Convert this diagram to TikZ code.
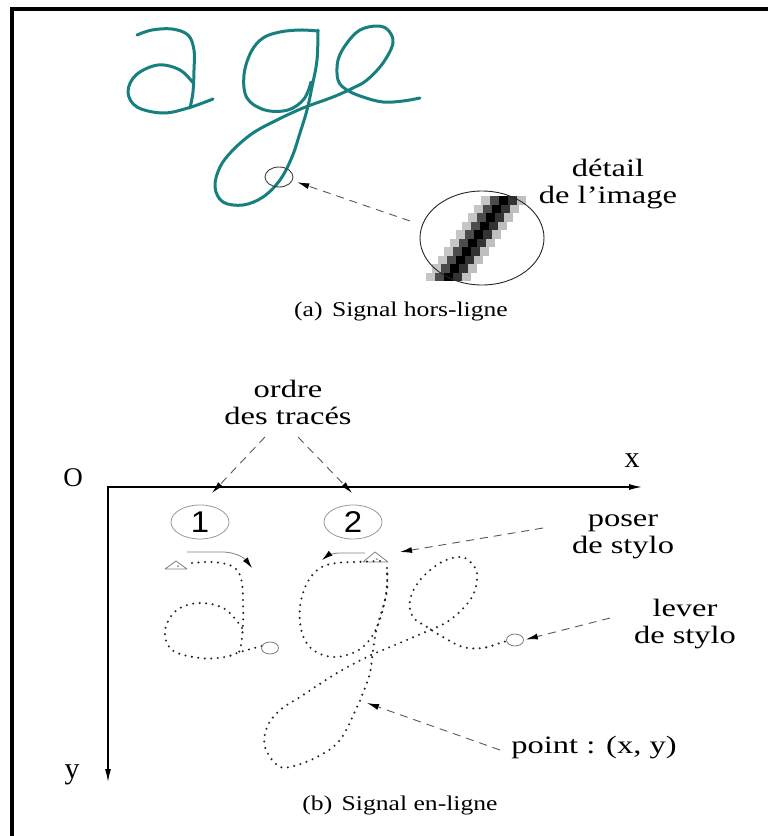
\documentclass[tikz,border=0pt]{standalone}
\usepackage{fontspec}
\setmainfont{Liberation Serif}
\newfontfamily\lblfont[FakeStretch=1.3]{Liberation Serif}
\newfontfamily\capfont[FakeStretch=1.22]{Liberation Serif}
\newfontfamily\digfont[FakeStretch=1.1]{Liberation Sans}
\usetikzlibrary{arrows.meta,shapes.geometric}
\definecolor{tealink}{HTML}{17807F}
\begin{document}
\begin{tikzpicture}[x=1pt,y=-1pt,
  lbl/.style={font=\lblfont\fontsize{25}{27}\selectfont, align=center, inner sep=0pt},
  capt/.style={font=\capfont\fontsize{21}{22}\selectfont, inner sep=0pt},
  axlbl/.style={font=\fontsize{30}{30}\selectfont, inner sep=0pt},
  digit/.style={font=\digfont\fontsize{30}{30}\selectfont, ellipse, draw=gray!80, line width=0.8pt, minimum width=58pt, minimum height=34pt, inner sep=0pt},
  hand/.style={tealink, line width=3pt, line cap=round, line join=round},
  dots/.style={black!85, line width=2.3pt, dash pattern=on 0pt off 6.5pt, line cap=round},
  dasharrow/.style={gray!70!black, line width=0.9pt, dash pattern=on 8pt off 6pt, -{Latex[length=12pt,width=6pt,black]}},
  penarrow/.style={gray, line width=0.8pt, -{Latex[length=11pt,width=6pt,black]}},
  pendown/.style={gray, line width=0.8pt, line join=round},
  penup/.style={draw=gray, ellipse, line width=0.8pt, minimum width=17pt, minimum height=12pt, inner sep=0pt}
]
\useasboundingbox (0,0) rectangle (768,836);
\fill[white] (0,0) rectangle (768,836);
% frame
\draw[line width=3.5pt, line join=miter] (770,9) -- (12,9) -- (12,838);

% ---------- (a) offline ----------
\draw[hand] plot[smooth, tension=0.6] coordinates {(137,35) (152,30) (172,29) (188,35) (194,50) (194,70) (193,92) (190,108)};
\draw[hand] plot[smooth, tension=0.6] coordinates {(194,84) (180,70) (158,65) (136,75) (128,92) (137,107) (163,113) (188,108) (213,99)};
\draw[hand] plot[smooth, tension=0.6] coordinates {(318,31) (300,30) (280,32) (263,38) (251,52) (244,75) (247,98) (265,110) (288,110) (304,99) (311,82)};
\draw[hand] plot[smooth, tension=0.6] coordinates {(318,30) (317,60) (312,87) (307,110) (300,133) (292,157) (280,180) (263,197) (243,205) (223,202) (215,187) (220,167) (233,150) (253,133) (277,120) (303,108) (333,97) (353,88) (367,80) (383,63) (393,43) (388,30) (377,26) (360,30) (347,43) (338,60) (338,80) (347,90) (363,97) (383,102) (403,101) (420,98)};

\node[draw=black!75, ellipse, line width=0.9pt, minimum width=28pt, minimum height=20pt, inner sep=0pt] (spot) at (279,177) {};

% pixel detail
\foreach \i in {0,...,9}{
  \pgfmathsetmacro\cx{503-6.1*\i}
  \pgfmathsetmacro\cy{196+8.5*\i}
  \fill[gray!45] (\cx-22.5,\cy) rectangle ++(9,8.5);
  \fill[gray!60!black] (\cx-13.5,\cy) rectangle ++(9,8.5);
  \fill[black] (\cx-4.5,\cy) rectangle ++(9,8.5);
  \fill[black!80] (\cx+4.5,\cy) rectangle ++(9,8.5);
  \fill[gray!50] (\cx+13.5,\cy) rectangle ++(9,8.5);
}
\node[draw=black!85, ellipse, line width=0.9pt, minimum width=124pt, minimum height=94pt, inner sep=0pt] (zoomc) at (482,238) {};
\coordinate (dtail) at (410,221);
\draw[dasharrow, shorten >=5pt] (dtail) -- (spot.-15);

\node[lbl] (detail) at (608,184) {détail\\de l’image};
\node[capt] (capa) at (401,311) {(a)\hspace{0.45em}Signal hors-ligne};

% ---------- (b) online ----------
\node[lbl] (ordre) at (288,402) {ordre\\des tracés};
\coordinate (orig) at (108,487);
\coordinate (xend) at (642,487);
\coordinate (yend) at (108,782);
\draw[line width=1.3pt, {Latex[length=13pt,width=6pt]}-{Latex[length=13pt,width=6pt]}] (xend) -- (orig) -- (yend);
\node[font=\fontsize{27}{27}\selectfont, inner sep=0pt] (O) at (73,478) {O};
\node[axlbl] (xl) at (632,461) {x};
\node[axlbl] (yl) at (72,775) {y};

\coordinate (s1) at (265,437);
\coordinate (t1) at (212,493);
\coordinate (s2) at (298,437);
\coordinate (t2) at (352,493);
\draw[dasharrow] (s1) -- (t1);
\draw[dasharrow] (s2) -- (t2);

\node[digit] (n1) at (200,522) {1};
\node[digit] (n2) at (353,522) {2};

% pen-down triangles
\draw[pendown] (165,569) -- (176,561) -- (187,569) -- cycle;
\fill[gray] (178,566) circle (1pt);
\draw[pendown] (363,562) -- (375,552) -- (388,562) -- cycle;
\fill[gray] (377,559) circle (1pt);

% stroke-direction arrows
\draw[penarrow] (187,552) -- (222,552) .. controls (238,552) and (246,560) .. (252,568);
\draw[penarrow] (365,553) -- (340,553) .. controls (332,553) and (327,556) .. (322,560);

% dotted online strokes
\draw[dots] plot[smooth, tension=0.6] coordinates {(192,563) (212,562) (232,566) (241,578) (243,600) (243,625) (241,645) (238,655)};
\draw[dots] plot[smooth, tension=0.6] coordinates {(242,628) (225,609) (200,603) (177,610) (165,630) (172,650) (200,658) (225,657) (240,652) (262,646)};
\draw[dots] plot[smooth, tension=0.6] coordinates {(380,561) (357,562) (337,563) (320,568) (307,583) (300,607) (302,633) (313,650) (333,657) (353,653) (367,643) (377,627) (384,605) (387,585) (387,570)};
\draw[dots] plot[smooth, tension=0.6] coordinates {(387,568) (387,590) (383,607) (377,627) (373,650) (370,673) (363,693) (357,707) (340,740) (317,757) (290,767) (277,765) (265,747) (267,727) (280,710) (300,697) (337,673) (367,657) (383,650) (423,633) (450,620) (472,597) (477,573) (468,560) (458,557) (440,563) (420,580) (410,600) (413,617) (427,627) (443,637) (463,647) (483,648) (500,643) (507,641)};

\node[penup] (end1) at (270,648) {};
\node[penup] (end2) at (515,640) {};

\node[lbl] (poser) at (623,537) {poser\\de stylo};
\node[lbl] (lever) at (685,624) {lever\\de stylo};
\node[lbl] (point) at (594,748) {point : (x, y)};

\coordinate (ps) at (543,528);
\coordinate (pt) at (400,552);
\draw[dasharrow] (ps) -- (pt);
\coordinate (ls) at (610,618);
\draw[dasharrow, shorten >=2pt] (ls) -- (end2.east);
\coordinate (qs) at (500,750);
\coordinate (qt) at (367,703);
\draw[dasharrow] (qs) -- (qt);

\node[capt] (capb) at (400,805) {(b)\hspace{0.45em}Signal en-ligne};
\end{tikzpicture}
\end{document}
